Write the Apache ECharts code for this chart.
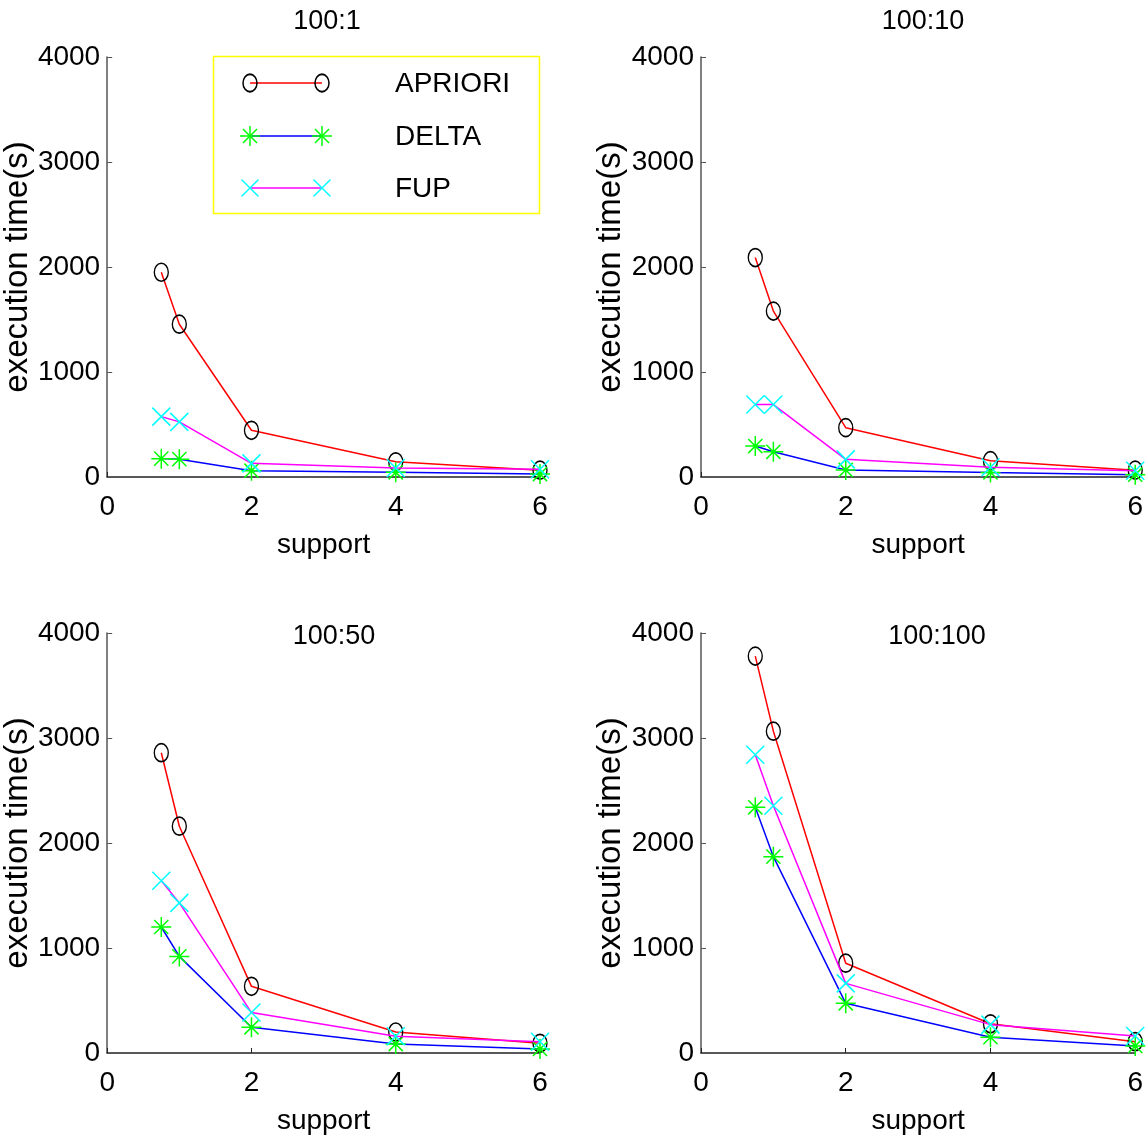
<!DOCTYPE html>
<html><head><meta charset="utf-8">
<script src="https://cdn.jsdelivr.net/npm/echarts@6/dist/echarts.min.js"></script>
<style>html,body{margin:0;padding:0;background:#fff}#c{width:1146px;height:1141px}</style>
</head><body><div id="c"></div>
<script>
// ---- data ----
const support = [0.75, 1, 2, 4, 6];
const panelTitles = ['100:1', '100:10', '100:50', '100:100'];
const seriesNames = ['APRIORI', 'DELTA', 'FUP'];
const apriori_1 = [1950, 1455, 445, 145, 65];
const delta_1   = [175, 170, 60, 45, 28];
const fup_1     = [575, 525, 130, 85, 73];
const apriori_10 = [2090, 1580, 470, 155, 65];
const delta_10   = [295, 240, 67, 44, 22];
const fup_10     = [690, 690, 168, 92, 60];
const apriori_50 = [2860, 2160, 635, 200, 92];
const delta_50   = [1200, 920, 245, 85, 38];
const fup_50     = [1640, 1430, 385, 160, 108];
const apriori_100 = [3780, 3065, 855, 278, 108];
const delta_100   = [2340, 1870, 473, 150, 67];
const fup_100     = [2840, 2355, 663, 270, 162];
const xTicks = [0, 2, 4, 6];
const yTicks = [0, 1000, 2000, 3000, 4000];

const panels = [
  [apriori_1, delta_1, fup_1],
  [apriori_10, delta_10, fup_10],
  [apriori_50, delta_50, fup_50],
  [apriori_100, delta_100, fup_100]
];

const FONT = '"Liberation Sans", Arial, sans-serif';
const STAR = 'path://M0,-1L0,1M-0.707,-0.707L0.707,0.707M-0.707,0.707L0.707,-0.707M-1,0L1,0';
const CROSS = 'path://M-1,-1L1,1M-1,1L1,-1';
const styles = [
  {line: '#ff0000', sym: 'circle', size: [14, 18], mk: '#000000'},
  {line: '#0000ff', sym: STAR, size: [20, 20], mk: '#00ff00'},
  {line: '#ff00ff', sym: CROSS, size: [18, 18], mk: '#00ffff'}
];

const gridPos = [
  {left: 105, top: 57},
  {left: 701, top: 57},
  {left: 105, top: 633},
  {left: 701, top: 633}
];
const titlePos = [
  {x: 322, y: 3}, {x: 918, y: 3}, {x: 329, y: 618}, {x: 932, y: 618}
];

const grid = [], xAxis = [], yAxis = [], series = [], title = [];
gridPos.forEach((g, i) => {
  grid.push({left: g.left, top: g.top, width: 435, height: 420, containLabel: false});
  xAxis.push({
    type: 'value', gridIndex: i, min: xTicks[0], max: xTicks[xTicks.length - 1], interval: 2,
    name: 'support', nameLocation: 'middle', nameGap: 54,
    nameTextStyle: {fontFamily: FONT, fontSize: 28, color: '#000'},
    axisLine: {show: true, onZero: false, lineStyle: {color: '#222', width: 1.5}},
    axisTick: {show: true, inside: true, length: 5, lineStyle: {color: '#222'}},
    axisLabel: {fontFamily: FONT, fontSize: 28, color: '#000', margin: 16, formatter: v => String(v)},
    splitLine: {show: false}
  });
  yAxis.push({
    type: 'value', gridIndex: i, min: yTicks[0], max: yTicks[yTicks.length - 1], interval: 1000,
    name: 'execution time(s)', nameLocation: 'middle', nameGap: 68,
    nameTextStyle: {fontFamily: FONT, fontSize: 33, color: '#000'},
    axisLine: {show: true, onZero: false, lineStyle: {color: '#555', width: 1.5}},
    axisTick: {show: true, inside: true, length: 5, lineStyle: {color: '#555'}},
    axisLabel: {fontFamily: FONT, fontSize: 28, color: '#000', margin: 7, formatter: v => String(v)},
    splitLine: {show: false}
  });
  title.push({
    text: panelTitles[i], left: titlePos[i].x, top: titlePos[i].y, textAlign: 'center',
    textStyle: {fontFamily: FONT, fontSize: 27, fontWeight: 'normal', color: '#000'}
  });
  panels[i].forEach((vals, k) => {
    const st = styles[k];
    series.push({
      name: seriesNames[k], type: 'line', xAxisIndex: i, yAxisIndex: i,
      data: support.map((x, j) => [x, vals[j]]),
      symbol: st.sym, symbolSize: st.size, showSymbol: true,
      lineStyle: {color: st.line, width: 1.5},
      itemStyle: {color: 'transparent', borderColor: st.mk, borderWidth: 1.5},
      z: 2 + k
    });
  });
});

// legend drawn as graphic (box with symbols at both ends of each line)
const lx1 = 250, lx2 = 322, rows = [83, 136, 188];
const legendEls = [
  {type: 'rect', shape: {x: 213.5, y: 56.5, width: 326, height: 157}, style: {fill: '#fff', stroke: '#ffff00', lineWidth: 1.5}, z: 100}
];
function mk(kind, cx, cy, color) {
  if (kind === 0) {
    return [{type: 'circle', x: cx, y: cy, scaleY: 1.25, shape: {cx: 0, cy: 0, r: 7}, style: {fill: 'transparent', stroke: color, lineWidth: 1.5}, z: 102}];
  }
  const r = 10, d = kind === 1 ? 10 * 0.707 : 8.5;
  const segs = kind === 1
    ? [[0, -r, 0, r], [-r, 0, r, 0], [-d, -d, d, d], [-d, d, d, -d]]
    : [[-d, -d, d, d], [-d, d, d, -d]];
  return segs.map(s => ({type: 'line', shape: {x1: cx + s[0], y1: cy + s[1], x2: cx + s[2], y2: cy + s[3]}, style: {stroke: color, lineWidth: 1.5}, z: 102}));
}
seriesNames.forEach((n, k) => {
  const y = rows[k];
  legendEls.push({type: 'line', shape: {x1: lx1, y1: y, x2: lx2, y2: y}, style: {stroke: styles[k].line, lineWidth: 1.5}, z: 101});
  mk(k, lx1, y, styles[k].mk).forEach(e => legendEls.push(e));
  mk(k, lx2, y, styles[k].mk).forEach(e => legendEls.push(e));
  legendEls.push({type: 'text', x: 395, y: y + 1, style: {text: n, fontFamily: FONT, fontSize: 28, fill: '#000', textVerticalAlign: 'middle', verticalAlign: 'middle'}, z: 102});
});

const chart = echarts.init(document.getElementById('c'), null, {renderer: 'canvas'});
chart.setOption({
  animation: false,
  backgroundColor: '#fff',
  title, grid, xAxis, yAxis, series,
  graphic: {elements: legendEls}
});
</script></body></html>
